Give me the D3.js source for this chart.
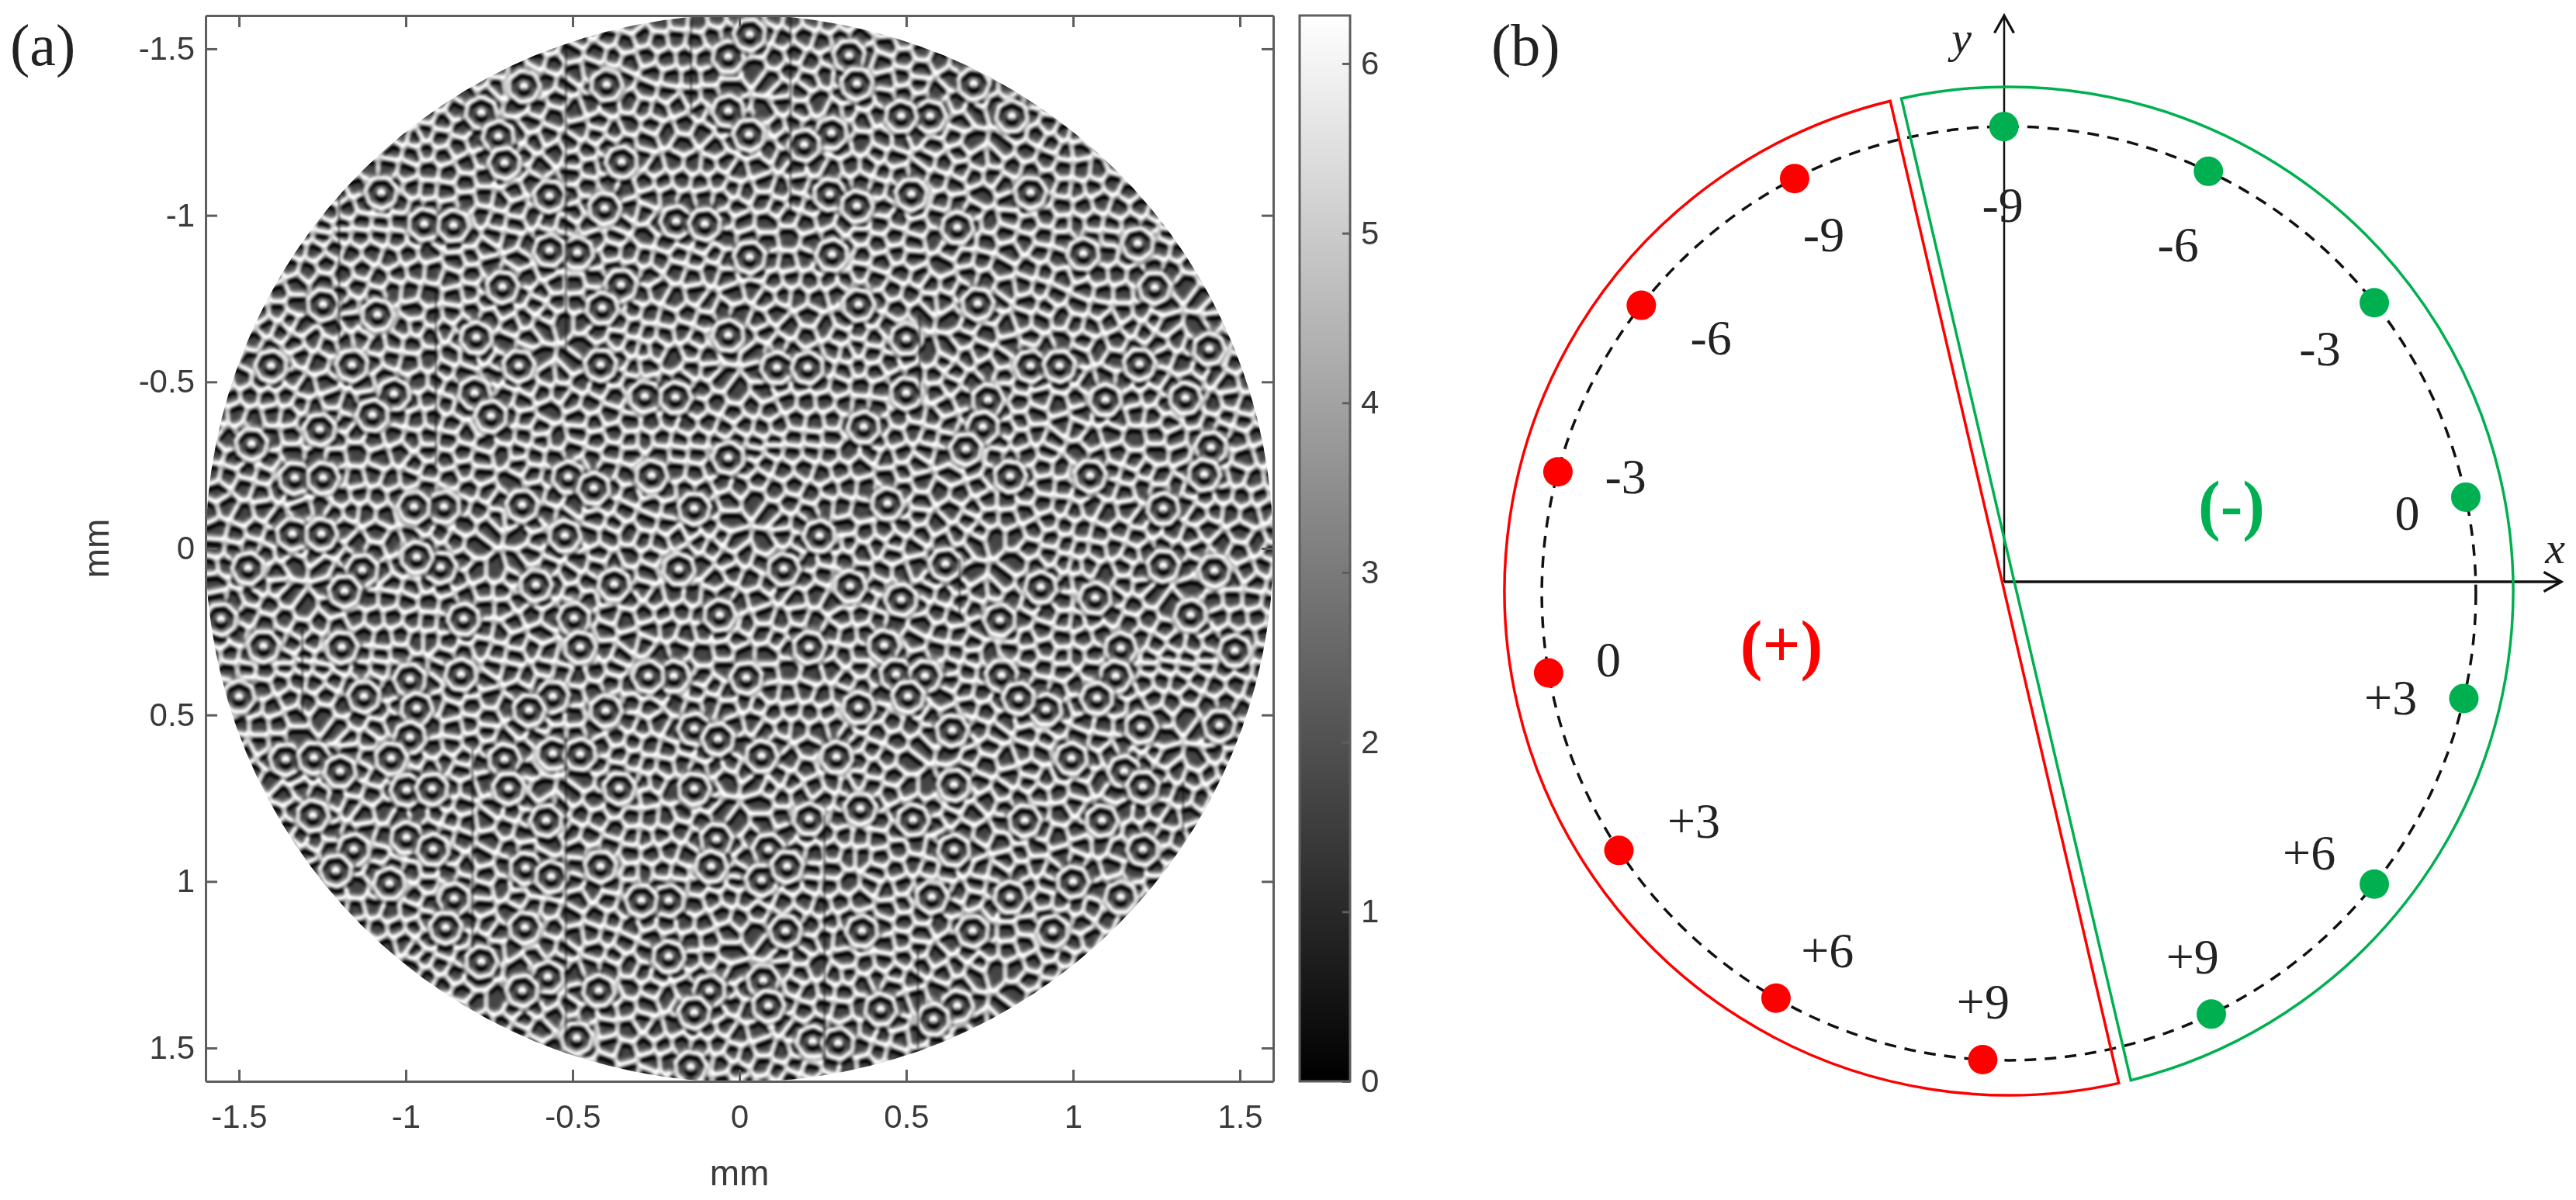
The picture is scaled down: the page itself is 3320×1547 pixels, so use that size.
<!DOCTYPE html>
<html><head><meta charset="utf-8">
<script src="https://cdnjs.cloudflare.com/ajax/libs/d3/7.8.5/d3.min.js"></script>
<style>html,body{margin:0;background:#fff}#wrap{position:relative;width:3320px;height:1547px;overflow:hidden}
canvas,svg{position:absolute;left:0;top:0}</style></head>
<body><div id="wrap"><canvas id="map" width="3320" height="1547"></canvas><svg id="svg" width="3320" height="1547"></svg></div>
<script>
// ---- panel (a) data
const axisTicks=[-1.5,-1,-0.5,0,0.5,1,1.5];
const colorTicks=[0,1,2,3,4,5,6];
// target-ring centres (1 mm = 980 reading units)
const ringsTopLeft=[[935,212],[1178,208],[810,290],[860,360],[1222,435],[878,438],[516,525],[1010,535],[1172,572],[642,618],[728,622],[1092,702],[1010,695],[1382,610],[1466,618],[1220,797],[872,803],[345,855],[505,885],[1165,865],[795,952],[1535,945],[192,1035],[430,1033],[1160,1032],[920,1035],[1290,1125],[1380,1128],[790,1115],[553,1118],[490,1180],[838,1183],[335,1222],[135,1265],[262,1365],[345,1365],[1310,1358],[1065,1362],[1140,1395],[700,1450],[612,1450],[930,1445],[1435,1455],[255,1530],[340,1530],[1055,1535],[1535,125],[1535,285],[1535,1305]];
const ringsTopRight=[[30,60],[322,122],[345,205],[688,205],[560,300],[475,300],[800,300],[270,350],[190,385],[28,355],[505,530],[855,525],[265,530],[345,565],[640,628],[1010,705],[272,708],[1170,675],[30,715],[1220,805],[700,852],[350,855],[1380,985],[490,955],[110,1040],[200,1040],[855,1035],[940,1035],[1175,1030],[490,1115],[730,1135],[1310,1130],[1075,1135],[365,1215],[715,1215],[1385,1275],[665,1280],[1030,1358],[795,1360],[1365,1355],[435,1440],[1245,1455],[235,1535]];
const ringsBottomLeft=[[125,62],[460,68],[408,130],[690,60],[970,112],[620,30],[1390,65],[1200,110],[758,212],[1082,210],[45,212],[170,292],[400,295],[1100,295],[1510,200],[1375,380],[750,375],[1300,380],[600,390],[465,440],[1020,440],[950,480],[1175,482],[620,475],[98,440],[600,560],[1435,535],[1505,565],[235,625],[318,620],[545,622],[878,625],[1020,608],[395,660],[1100,610],[590,715],[665,712],[890,710],[1215,710],[1435,712],[315,790],[590,855],[668,890],[435,890],[1000,805],[382,952],[1160,940],[1500,860],[940,945],[1015,970],[1485,940],[540,990],[730,1035],[1360,1040],[1280,1040],[705,1120],[938,1120],[810,1220],[1360,1205],[1155,1305],[1005,1265],[1480,1305],[930,1305],[1435,1370],[1090,1445],[1425,1530]];
const ringsBottomRight=[[130,65],[325,115],[885,118],[1045,150],[475,155],[605,50],[1395,70],[1245,55],[205,295],[425,290],[1120,298],[1455,305],[1325,200],[765,215],[20,385],[770,378],[460,375],[545,380],[1105,380],[350,472],[900,478],[1050,445],[820,445],[495,440],[1410,525],[625,540],[1180,530],[65,615],[285,618],[975,622],[1130,660],[630,700],[1185,705],[355,770],[838,805],[1065,805],[510,803],[205,800],[630,892],[1185,890],[85,890],[65,980],[140,940],[565,1030],[980,985],[795,1030],[1120,1030],[360,1130],[920,1130],[685,1130],[135,1130],[70,1275],[85,1350],[640,1350],[415,1360],[215,1455],[570,1390],[290,1460]];
const cellTile=[[30,20],[95,40],[160,25],[215,50],[290,25],[370,30],[430,40],[505,25],[580,40],[650,20],[700,60],[20,90],[75,100],[140,85],[195,100],[255,80],[300,100],[390,75],[440,100],[500,110],[560,95],[615,115],[680,110],[40,150],[130,130],[185,150],[240,135],[300,155],[360,130],[400,140],[455,170],[510,160],[575,170],[635,165],[695,160],[10,215],[70,200],[125,230],[195,215],[235,245],[320,210],[385,195],[430,225],[485,215],[535,220],[600,225],[660,210],[705,240],[40,280],[100,295],[165,280],[225,300],[280,265],[340,280],[405,305],[460,275],[510,325],[570,290],[625,325],[690,300],[35,340],[90,345],[150,335],[200,360],[260,350],[310,335],[365,355],[420,340],[475,385],[560,350],[670,350],[20,400],[120,425],[60,395],[235,420],[180,400],[290,385],[400,400],[440,420],[510,400],[590,420],[650,400],[700,410],[25,450],[180,465],[240,470],[420,470],[480,450],[540,445],[620,455],[690,470],[40,520],[95,525],[155,500],[215,530],[270,500],[330,545],[420,540],[480,515],[540,510],[610,510],[670,520],[20,585],[80,575],[140,560],[200,590],[260,575],[320,610],[380,585],[440,600],[500,570],[560,575],[625,570],[690,580],[45,640],[105,625],[165,645],[235,640],[290,660],[355,650],[415,660],[470,650],[530,630],[590,640],[650,630],[705,645],[20,700],[80,695],[140,705],[205,700],[265,710],[330,700],[395,710],[455,705],[520,695],[585,700],[645,695]];
// vertical stitching seams visible in the map (mm)
const seamX=[-0.52,-1.2,-0.91,-0.145,-0.52,-1.31,-0.8,0.153,0.54,0.66,0.535,1.33,0.255];
const seamStart=[-1.51,-1.06,-0.78,-1.59,0.57,0.24,0.6,-1.6,-0.7,0.03,1.2,0.7,0.8];
const seamEnd=[-0.58,-0.63,-0.25,-1.3,1.48,0.5,1.2,-1.0,-0.45,0.2,1.5,0.85,1.55];

// ---- panel (b) data
const pointLabels=["-9","-6","-3","0","+3","+6","+9"];
const redAngles=[117.3,141.9,164.9,189.8,213.4,240.1,266.8];
const greenAngles=[90.6,64.7,38.5,11.9,-13.0,-38.5,-64.3];
const redLabelAngles=[117.3,139.4,163.1,189.5,215.9,243.1,266.4];
const greenLabelAngles=[90.9,64.1,38.2,11.4,-15.3,-40.9,-63.2];
const redLabelRadii=[.80,.778,.794,.805,.771,.795,.812];
const greenLabelRadii=[.769,.768,.785,.806,.785,.788,.808];
const dashedRadius=.926;
const redSector=[103.6,282.6];
const greenSector=[102.3,-76.0];

// ---- layout
const FX0=265,FX1=1641,FY0=20,FY1=1394,CB0=1675,CB1=1740;
const RED="#ff0000",GREEN="#00b050",FRAME="#5e5e5e",TXT="#3a3a3a",SERIF="'Liberation Serif','Times New Roman',serif",SANS="'Liberation Sans',sans-serif";
const x=d3.scaleLinear([-1.6,1.6],[FX0,FX1]), y=d3.scaleLinear([-1.6,1.6],[FY0,FY1]);
const c=d3.scaleLinear([0,2*Math.PI],[FY1,FY0]);
const cols=d3.scaleSequential(d3.interpolateRgb("#000","#fff")).domain([0,2*Math.PI]);

// ---- texture
(function(){
  const W=FX1-FX0,H=FY1-FY0;
  const quad=[[ringsTopLeft,-1.6,-1.6],[ringsTopRight,0,-1.6],[ringsBottomLeft,-1.6,0],[ringsBottomRight,0,0]];
  const rings=[];
  quad.forEach(([a,x0,y0])=>a.forEach(([u,v])=>rings.push([x(x0+u/980)-FX0,y(y0+v/980)-FY0])));
  const sites=[], tilePx=(x(240/430)-x(0))*1.16;
  for(let i=0;i*tilePx<W;i++)for(let j=0;j*tilePx<H;j++){
    const turn=(i+2*j)%4;
    cellTile.forEach(([u,v])=>{
      const a=u/720,b=v/720;
      const [p,q]=turn===0?[a,b]:turn===1?[1-b,a]:turn===2?[1-a,1-b]:[b,1-a];
      sites.push([(i+p)*tilePx,(j+q)*tilePx]);
    });
  }
  const vor=d3.Delaunay.from(sites).voronoi([-5,-5,W+5,H+5]);
  const hc=document.createElement("canvas");hc.width=W;hc.height=H;
  const h=hc.getContext("2d",{willReadFrequently:true});
  h.fillStyle="#000";h.fillRect(0,0,W,H);
  h.strokeStyle="#fff";h.lineWidth=5.5;h.lineJoin="round";
  h.beginPath();vor.render(h);h.stroke();
  const ngon=(a,b,rad,phase)=>{h.beginPath();d3.range(7).forEach(k=>{const t=phase+k*2*Math.PI/7;h.lineTo(a+rad*Math.cos(t),b+rad*Math.sin(t));});h.closePath();};
  rings.forEach(([a,b],n)=>{
    h.fillStyle="#000";ngon(a,b,27,n);h.fill();
    h.strokeStyle="#fff";h.lineWidth=5;ngon(a,b,21,n);h.stroke();
    h.fillStyle="#fff";h.beginPath();h.arc(a,b,5.5,0,7);h.fill();
  });
  // soften corners so the cells become rounded blobs
  const bc=document.createElement("canvas");bc.width=W;bc.height=H;
  const b=bc.getContext("2d",{willReadFrequently:true});
  b.filter="blur(2.4px)";b.drawImage(hc,0,0);b.filter="none";
  const src=b.getImageData(0,0,W,H).data;
  const out=b.createImageData(W,H),S=3;
  const sm=t=>{t=Math.max(0,Math.min(1,(t-.25)/.35));return t*t*(3-2*t);};
  for(let j=0;j<H;j++)for(let i=0;i<W;i++){
    const k=4*(j*W+i);
    const v=sm(src[k]/255);
    const up=src[4*(Math.max(j-S,0)*W+i)]/255, dn=src[4*(Math.min(j+S,H-1)*W+i)]/255;
    const g=0.27+0.55*v+0.7*(dn-up);
    const val=Math.max(0,Math.min(1,g))*255;
    out.data[k]=out.data[k+1]=out.data[k+2]=val;out.data[k+3]=255;
  }
  b.putImageData(out,0,0);
  b.strokeStyle="rgba(0,0,0,.55)";b.lineWidth=2.5;
  seamX.forEach((sx,i)=>{b.beginPath();b.moveTo(x(sx)-FX0,y(seamStart[i])-FY0);b.lineTo(x(sx)-FX0,y(seamEnd[i])-FY0);b.stroke();});
  const m=document.getElementById("map").getContext("2d");
  m.save();m.beginPath();m.arc(x(0),y(0),x(1.6)-x(0),0,7);m.clip();
  m.filter="blur(1.4px)";m.drawImage(bc,FX0,FY0);m.restore();
  // colorbar image
  d3.range(FY0,FY1).forEach(p=>{m.fillStyle=cols(c.invert(p+.5));m.fillRect(CB0,p,CB1-CB0,1);});
})();

// ---- axes of (a)
const svg=d3.select("#svg");
const gA=svg.append("g");
const plain=d=>String(d);
const style=(s,lab)=>{
  s.selectAll(".domain").attr("stroke",FRAME).attr("stroke-width",3);
  s.selectAll("line").attr("stroke",FRAME).attr("stroke-width",3);
  s.selectAll("text").attr("fill",lab?TXT:"none").style("font",`42px ${SANS}`);
};
gA.append("g").attr("transform",`translate(0,${FY1})`).call(d3.axisBottom(x).tickValues(axisTicks).tickSizeInner(-15).tickSizeOuter(0).tickPadding(30).tickFormat(plain)).call(style,true);
gA.append("g").attr("transform",`translate(0,${FY0})`).call(d3.axisTop(x).tickValues(axisTicks).tickSizeInner(-15).tickSizeOuter(0).tickFormat("")).call(style,false);
gA.append("g").attr("transform",`translate(${FX0},0)`).call(d3.axisLeft(y).tickValues(axisTicks).tickSizeInner(-15).tickSizeOuter(0).tickPadding(14).tickFormat(plain)).call(style,true);
gA.append("g").attr("transform",`translate(${FX1},0)`).call(d3.axisRight(y).tickValues(axisTicks).tickSizeInner(-15).tickSizeOuter(0).tickFormat("")).call(style,false);
gA.append("text").attr("x",x(0)).attr("y",1528).attr("text-anchor","middle").attr("fill",TXT).style("font",`46px ${SANS}`).text("mm");
gA.append("text").attr("transform",`translate(140,${y(0)}) rotate(-90)`).attr("text-anchor","middle").attr("fill",TXT).style("font",`46px ${SANS}`).text("mm");
// colorbar
const gC=svg.append("g");
gC.append("rect").attr("x",CB0).attr("y",FY0).attr("width",CB1-CB0).attr("height",FY1-FY0).attr("fill","none").attr("stroke",FRAME).attr("stroke-width",3);
gC.append("g").attr("transform",`translate(${CB1},0)`).call(d3.axisRight(c).tickValues(colorTicks).tickSizeInner(-10).tickSizeOuter(0).tickPadding(14).tickFormat(d3.format("d"))).call(style,true).selectAll(".domain").remove();
svg.append("text").attr("x",13).attr("y",84).attr("fill","#222").style("font",`76px ${SERIF}`).text("(a)");
svg.append("text").attr("x",1922).attr("y",84).attr("fill","#222").style("font",`76px ${SERIF}`).text("(b)");

// ---- panel (b)
const X0=2589,YA=762,YD=765,OX=2583,OY=750;
const r=d3.scaleLinear([0,1],[0,650]);
const polar=(deg,rad,cy)=>{const t=deg*Math.PI/180;return [X0+r(rad)*Math.cos(t),cy-r(rad)*Math.sin(t)];};
const gB=svg.append("g");
// axes
const mk=svg.append("defs").append("marker").attr("id","arr").attr("viewBox","0 0 24 24").attr("refX",21).attr("refY",12).attr("markerWidth",30).attr("markerHeight",30).attr("markerUnits","userSpaceOnUse").attr("orient","auto");
mk.append("path").attr("d","M3,2 L21,12 L3,22").attr("fill","none").attr("stroke","#111").attr("stroke-width",2.6);
gB.append("line").attr("x1",OX).attr("y1",OY).attr("x2",OX).attr("y2",20).attr("stroke","#111").attr("stroke-width",2.5).attr("marker-end","url(#arr)");
gB.append("line").attr("x1",OX).attr("y1",OY).attr("x2",3301).attr("y2",OY).attr("stroke","#111").attr("stroke-width",3.5).attr("marker-end","url(#arr)");
// dashed circle
gB.append("circle").attr("cx",X0).attr("cy",YD).attr("r",r(dashedRadius)).attr("fill","none").attr("stroke","#111").attr("stroke-width",3.5).attr("stroke-dasharray","15 11");
// sectors
const sector=([a0,a1],ccw)=>{const p=d3.path();const s=polar(a0,1,YA);p.moveTo(s[0],s[1]);
  p.arc(X0,YA,r(1),-a0*Math.PI/180,-a1*Math.PI/180,ccw);p.closePath();return p.toString();};
gB.append("path").attr("d",sector(redSector,true)).attr("fill","none").attr("stroke",RED).attr("stroke-width",3.5);
gB.append("path").attr("d",sector(greenSector,false)).attr("fill","none").attr("stroke",GREEN).attr("stroke-width",3.5);
// dots and labels
const series=[[redAngles,RED,redLabelAngles,redLabelRadii],[greenAngles,GREEN,greenLabelAngles,greenLabelRadii]];
series.forEach(([ang,col,la,lr])=>{
  gB.append("g").selectAll("circle").data(ang).join("circle")
    .attr("cx",d=>polar(d,dashedRadius,YD)[0]).attr("cy",d=>polar(d,dashedRadius,YD)[1]).attr("r",19).attr("fill",col);
  gB.append("g").selectAll("text").data(pointLabels).join("text")
    .attr("x",(d,i)=>polar(la[i],lr[i],YD)[0]).attr("y",(d,i)=>polar(la[i],lr[i],YD)[1]).attr("dy",".33em")
    .attr("text-anchor","middle").attr("fill","#222").style("font",`64px ${SERIF}`).text(d=>d);
});
gB.append("text").attr("x",2296).attr("y",860).attr("text-anchor","middle").attr("fill",RED).style("font",`bold 86px ${SERIF}`).text("(+)");
gB.append("text").attr("x",2876).attr("y",680).attr("text-anchor","middle").attr("fill",GREEN).style("font",`bold 86px ${SERIF}`).text("(-)");
gB.append("text").attr("x",2528).attr("y",68).attr("text-anchor","middle").attr("fill","#222").style("font",`italic 58px ${SERIF}`).text("y");
gB.append("text").attr("x",3293).attr("y",726).attr("text-anchor","middle").attr("fill","#222").style("font",`italic 58px ${SERIF}`).text("x");
</script></body></html>
